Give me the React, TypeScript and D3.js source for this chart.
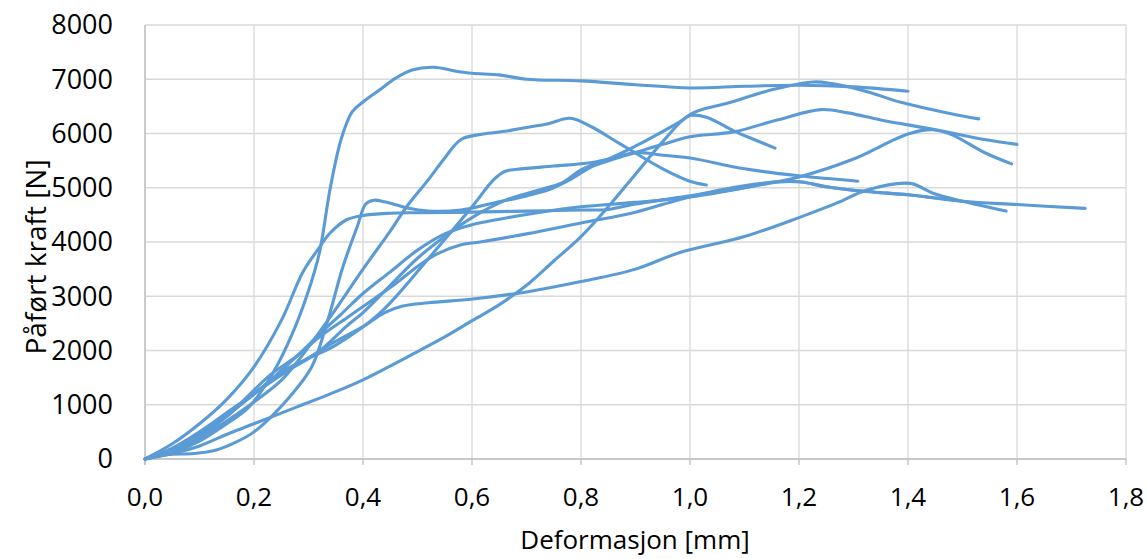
import React from 'react';
import * as d3 from 'd3';

const xTicks = [0, 0.2, 0.4, 0.6, 0.8, 1.0, 1.2, 1.4, 1.6, 1.8];
const yTicks = [0, 1000, 2000, 3000, 4000, 5000, 6000, 7000, 8000];
const xTitle = 'Deformasjon [mm]';
const yTitle = 'Påført kraft [N]';

const seriesA: [number, number][] = [[0,0],[0.05,120],[0.1,330],[0.15,650],[0.19,950],[0.235,1590],[0.27,2300],[0.3,3100],[0.32,3800],[0.34,5000],[0.36,5900],[0.38,6400],[0.4,6580],[0.43,6800],[0.46,7020],[0.49,7170],[0.53,7220],[0.57,7150],[0.6,7110],[0.65,7080],[0.7,7000],[0.8,6970],[0.9,6900],[1.0,6840],[1.1,6870],[1.2,6890],[1.3,6860],[1.4,6780]];
const seriesB: [number, number][] = [[0,0],[0.05,160],[0.1,380],[0.15,700],[0.2,1050],[0.25,1450],[0.28,1800],[0.34,2620],[0.4,3500],[0.45,4200],[0.48,4650],[0.52,5150],[0.55,5550],[0.58,5890],[0.62,5990],[0.66,6040],[0.7,6110],[0.74,6180],[0.78,6280],[0.82,6120],[0.86,5880],[0.89,5700],[0.95,5350],[1.0,5120],[1.03,5050]];
const seriesC: [number, number][] = [[0,0],[0.05,280],[0.1,650],[0.15,1100],[0.2,1700],[0.25,2550],[0.29,3450],[0.32,3900],[0.34,4170],[0.37,4410],[0.4,4490],[0.45,4530],[0.5,4540],[0.6,4550],[0.7,4570],[0.8,4590],[0.85,4600],[0.9,4700],[1.0,4850],[1.1,5000],[1.15,5100],[1.2,5110],[1.25,5020],[1.325,4930],[1.4,4870],[1.5,4750],[1.6,4690],[1.725,4620]];
const seriesD: [number, number][] = [[0,0],[0.04,80],[0.09,100],[0.125,150],[0.16,280],[0.2,500],[0.27,1200],[0.306,1700],[0.334,2510],[0.363,3540],[0.39,4300],[0.405,4700],[0.42,4770],[0.44,4740],[0.48,4630],[0.52,4570],[0.58,4590],[0.64,4720],[0.7,4850],[0.74,4960],[0.78,5150],[0.82,5390],[0.86,5530],[0.9,5650],[0.95,5800],[1.0,5940],[1.08,6030],[1.16,6250],[1.24,6440],[1.29,6380],[1.35,6250],[1.45,6070],[1.54,5890],[1.6,5800]];
const seriesE1: [number, number][] = [[0,0],[0.05,180],[0.1,450],[0.15,800],[0.187,1090],[0.23,1450],[0.279,1900],[0.32,2300],[0.363,2700],[0.4,3050],[0.45,3450],[0.5,3850],[0.55,4150],[0.6,4320],[0.65,4420],[0.72,4540],[0.8,4650],[0.9,4730],[1.0,4830],[1.1,5000],[1.2,5200],[1.3,5530],[1.4,5990],[1.446,6070],[1.48,5980],[1.54,5650],[1.59,5440]];
const seriesE2: [number, number][] = [[0,0],[0.05,160],[0.1,420],[0.15,780],[0.187,1140],[0.23,1550],[0.279,1900],[0.32,2250],[0.37,2600],[0.42,2950],[0.462,3250],[0.5,3550],[0.536,3780],[0.58,3950],[0.615,4000],[0.7,4150],[0.8,4350],[0.9,4550],[0.98,4780],[1.05,4950],[1.15,5100],[1.2,5110],[1.25,5020],[1.325,4930],[1.4,4870],[1.5,4750]];
const seriesG: [number, number][] = [[0,0],[0.05,200],[0.1,500],[0.15,850],[0.2,1200],[0.25,1550],[0.3,1850],[0.35,2100],[0.431,2690],[0.523,3730],[0.6,4650],[0.64,5150],[0.66,5300],[0.683,5340],[0.75,5400],[0.817,5460],[0.86,5550],[0.9,5650],[0.95,5600],[1.0,5550],[1.1,5350],[1.2,5220],[1.308,5120]];
const seriesH: [number, number][] = [[0,0],[0.05,150],[0.1,400],[0.15,800],[0.217,1330],[0.26,1620],[0.303,1880],[0.35,2170],[0.4,2440],[0.44,2700],[0.473,2820],[0.52,2880],[0.602,2950],[0.7,3080],[0.8,3270],[0.9,3500],[0.98,3800],[1.1,4100],[1.2,4450],[1.27,4720],[1.325,4960],[1.404,5080],[1.446,4900],[1.5,4750],[1.58,4570]];
const seriesF1: [number, number][] = [[0,0],[0.05,100],[0.1,240],[0.156,480],[0.2,650],[0.279,960],[0.34,1200],[0.4,1460],[0.5,1980],[0.55,2250],[0.602,2560],[0.651,2850],[0.706,3250],[0.75,3650],[0.8,4100],[0.85,4650],[0.9,5250],[0.95,5850],[1.0,6350],[1.073,6570],[1.152,6810],[1.226,6950],[1.26,6920],[1.325,6770],[1.385,6580],[1.477,6370],[1.53,6270]];
const seriesF2: [number, number][] = [[0,0],[0.05,180],[0.1,480],[0.15,850],[0.2,1200],[0.25,1600],[0.316,1960],[0.37,2450],[0.4,2700],[0.45,3200],[0.5,3700],[0.55,4100],[0.6,4450],[0.664,4780],[0.72,4950],[0.767,5100],[0.8,5330],[0.859,5570],[0.921,5880],[0.982,6220],[1.0,6330],[1.03,6300],[1.08,6050],[1.12,5880],[1.156,5730]];

const allSeries = [seriesA, seriesB, seriesC, seriesD, seriesE1, seriesE2, seriesG, seriesH, seriesF1, seriesF2];

const W = 1147;
const H = 559;
const FONT = '"Open Sans", "Liberation Sans", sans-serif';

export default function App() {
  const x = d3.scaleLinear().domain([0, 1.8]).range([145, 1126]);
  const y = d3.scaleLinear().domain([0, 8000]).range([459, 25]);
  const line = d3
    .line<[number, number]>()
    .x((d) => x(d[0]))
    .y((d) => y(d[1]))
    .curve(d3.curveCatmullRom.alpha(0.5));
  const fmt = (v: number) => v.toFixed(1).replace('.', ',');

  return (
    <svg
      width={W}
      height={H}
      style={{ position: 'absolute', left: 0, top: 0, background: '#fff' }}
      fontFamily={FONT}
    >
      {yTicks.map((t) => (
        <line key={'gy' + t} x1={x(0)} x2={x(1.8)} y1={y(t)} y2={y(t)} stroke="#D9D9D9" strokeWidth={1.3} />
      ))}
      {xTicks.map((t) => (
        <line key={'gx' + t} x1={x(t)} x2={x(t)} y1={y(0)} y2={y(8000)} stroke="#D9D9D9" strokeWidth={1.3} />
      ))}
      {xTicks.map((t) => (
        <line key={'tx' + t} x1={x(t)} x2={x(t)} y1={y(0)} y2={y(0) + 6} stroke="#BFBFBF" strokeWidth={1.3} />
      ))}
      <line x1={x(0)} x2={x(0)} y1={y(8000)} y2={y(0) + 6} stroke="#BFBFBF" strokeWidth={1.3} />
      <line x1={x(0)} x2={x(1.8)} y1={y(0)} y2={y(0)} stroke="#BFBFBF" strokeWidth={1.3} />
      {allSeries.map((s, i) => (
        <path key={'s' + i} d={line(s) || ''} fill="none" stroke="#5B9BD5" strokeWidth={3.1} strokeLinecap="round" strokeLinejoin="round" />
      ))}
      {yTicks.map((t) => (
        <text key={'ly' + t} x={113} y={y(t)} dy="0.35em" textAnchor="end" fontSize={27} fill="#000">
          {t}
        </text>
      ))}
      {xTicks.map((t) => (
        <text key={'lx' + t} x={x(t)} y={506} textAnchor="middle" fontSize={26} fill="#000">
          {fmt(t)}
        </text>
      ))}
      <text x={635} y={549} textAnchor="middle" fontSize={26} fill="#000">
        {xTitle}
      </text>
      <text transform={`translate(46,257) rotate(-90)`} textAnchor="middle" fontSize={28} fill="#000">
        {yTitle}
      </text>
    </svg>
  );
}
